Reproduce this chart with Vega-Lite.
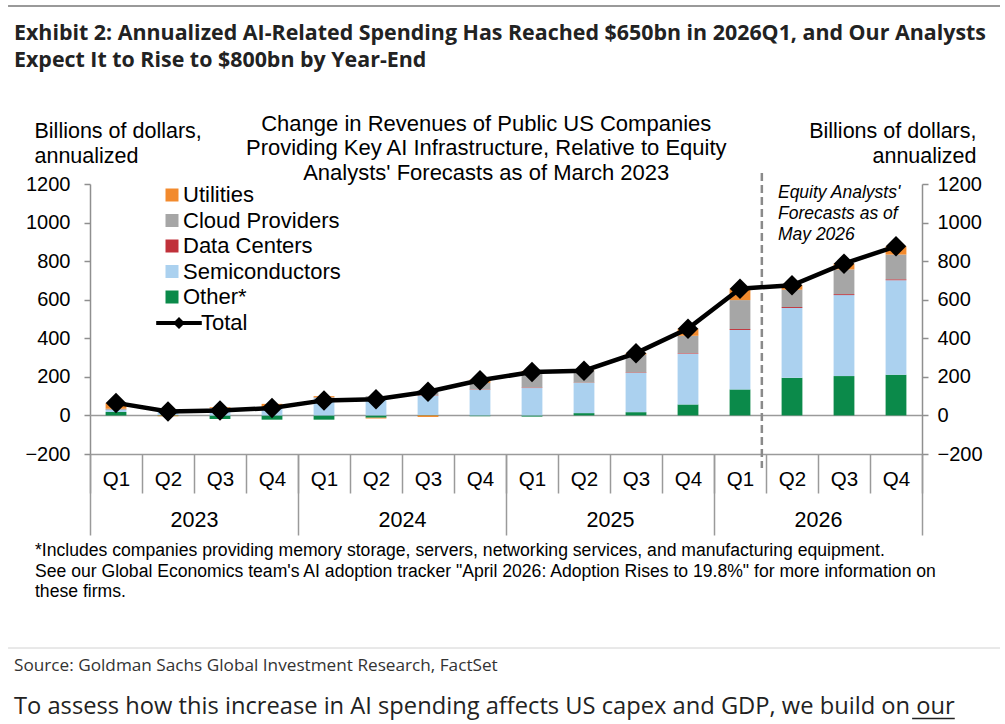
{
  "$schema": "https://vega.github.io/schema/vega-lite/v6.json",
  "width": 832,
  "height": 270,
  "autosize": {"type": "none"},
  "padding": {"left": 90, "top": 184, "right": 83, "bottom": 270},
  "background": "white",
  "config": {"view": {"stroke": null}},
  "datasets": {
    "sectors": [
      {"quarter": "2023 Q1", "sector": "Other*", "value": 18},
      {"quarter": "2023 Q1", "sector": "Semiconductors", "value": 10},
      {"quarter": "2023 Q1", "sector": "Data Centers", "value": 1},
      {"quarter": "2023 Q1", "sector": "Cloud Providers", "value": 6},
      {"quarter": "2023 Q1", "sector": "Utilities", "value": 30},
      {"quarter": "2023 Q2", "sector": "Other*", "value": 2},
      {"quarter": "2023 Q2", "sector": "Semiconductors", "value": 20},
      {"quarter": "2023 Q2", "sector": "Data Centers", "value": 0},
      {"quarter": "2023 Q2", "sector": "Cloud Providers", "value": 2},
      {"quarter": "2023 Q2", "sector": "Utilities", "value": -4},
      {"quarter": "2023 Q3", "sector": "Other*", "value": -18},
      {"quarter": "2023 Q3", "sector": "Semiconductors", "value": 35},
      {"quarter": "2023 Q3", "sector": "Data Centers", "value": 1},
      {"quarter": "2023 Q3", "sector": "Cloud Providers", "value": 3},
      {"quarter": "2023 Q3", "sector": "Utilities", "value": 4},
      {"quarter": "2023 Q4", "sector": "Other*", "value": -22},
      {"quarter": "2023 Q4", "sector": "Semiconductors", "value": 38},
      {"quarter": "2023 Q4", "sector": "Data Centers", "value": 0},
      {"quarter": "2023 Q4", "sector": "Cloud Providers", "value": 5},
      {"quarter": "2023 Q4", "sector": "Utilities", "value": 17},
      {"quarter": "2024 Q1", "sector": "Other*", "value": -22},
      {"quarter": "2024 Q1", "sector": "Semiconductors", "value": 90},
      {"quarter": "2024 Q1", "sector": "Data Centers", "value": 1},
      {"quarter": "2024 Q1", "sector": "Cloud Providers", "value": 3},
      {"quarter": "2024 Q1", "sector": "Utilities", "value": 6},
      {"quarter": "2024 Q2", "sector": "Other*", "value": -12},
      {"quarter": "2024 Q2", "sector": "Semiconductors", "value": 80},
      {"quarter": "2024 Q2", "sector": "Data Centers", "value": 2},
      {"quarter": "2024 Q2", "sector": "Cloud Providers", "value": 18},
      {"quarter": "2024 Q2", "sector": "Utilities", "value": -4},
      {"quarter": "2024 Q3", "sector": "Other*", "value": 2},
      {"quarter": "2024 Q3", "sector": "Semiconductors", "value": 100},
      {"quarter": "2024 Q3", "sector": "Data Centers", "value": 2},
      {"quarter": "2024 Q3", "sector": "Cloud Providers", "value": 27},
      {"quarter": "2024 Q3", "sector": "Utilities", "value": -8},
      {"quarter": "2024 Q4", "sector": "Other*", "value": -4},
      {"quarter": "2024 Q4", "sector": "Semiconductors", "value": 133},
      {"quarter": "2024 Q4", "sector": "Data Centers", "value": 2},
      {"quarter": "2024 Q4", "sector": "Cloud Providers", "value": 34},
      {"quarter": "2024 Q4", "sector": "Utilities", "value": 17},
      {"quarter": "2025 Q1", "sector": "Other*", "value": -6},
      {"quarter": "2025 Q1", "sector": "Semiconductors", "value": 142},
      {"quarter": "2025 Q1", "sector": "Data Centers", "value": 3},
      {"quarter": "2025 Q1", "sector": "Cloud Providers", "value": 76},
      {"quarter": "2025 Q1", "sector": "Utilities", "value": 10},
      {"quarter": "2025 Q2", "sector": "Other*", "value": 12},
      {"quarter": "2025 Q2", "sector": "Semiconductors", "value": 156},
      {"quarter": "2025 Q2", "sector": "Data Centers", "value": 2},
      {"quarter": "2025 Q2", "sector": "Cloud Providers", "value": 60},
      {"quarter": "2025 Q2", "sector": "Utilities", "value": 2},
      {"quarter": "2025 Q3", "sector": "Other*", "value": 17},
      {"quarter": "2025 Q3", "sector": "Semiconductors", "value": 203},
      {"quarter": "2025 Q3", "sector": "Data Centers", "value": 3},
      {"quarter": "2025 Q3", "sector": "Cloud Providers", "value": 92},
      {"quarter": "2025 Q3", "sector": "Utilities", "value": 8},
      {"quarter": "2025 Q4", "sector": "Other*", "value": 57},
      {"quarter": "2025 Q4", "sector": "Semiconductors", "value": 263},
      {"quarter": "2025 Q4", "sector": "Data Centers", "value": 3},
      {"quarter": "2025 Q4", "sector": "Cloud Providers", "value": 90},
      {"quarter": "2025 Q4", "sector": "Utilities", "value": 37},
      {"quarter": "2026 Q1", "sector": "Other*", "value": 135},
      {"quarter": "2026 Q1", "sector": "Semiconductors", "value": 308},
      {"quarter": "2026 Q1", "sector": "Data Centers", "value": 5},
      {"quarter": "2026 Q1", "sector": "Cloud Providers", "value": 150},
      {"quarter": "2026 Q1", "sector": "Utilities", "value": 59},
      {"quarter": "2026 Q2", "sector": "Other*", "value": 195},
      {"quarter": "2026 Q2", "sector": "Semiconductors", "value": 362},
      {"quarter": "2026 Q2", "sector": "Data Centers", "value": 5},
      {"quarter": "2026 Q2", "sector": "Cloud Providers", "value": 90},
      {"quarter": "2026 Q2", "sector": "Utilities", "value": 23},
      {"quarter": "2026 Q3", "sector": "Other*", "value": 204},
      {"quarter": "2026 Q3", "sector": "Semiconductors", "value": 420},
      {"quarter": "2026 Q3", "sector": "Data Centers", "value": 5},
      {"quarter": "2026 Q3", "sector": "Cloud Providers", "value": 128},
      {"quarter": "2026 Q3", "sector": "Utilities", "value": 30},
      {"quarter": "2026 Q4", "sector": "Other*", "value": 211},
      {"quarter": "2026 Q4", "sector": "Semiconductors", "value": 490},
      {"quarter": "2026 Q4", "sector": "Data Centers", "value": 5},
      {"quarter": "2026 Q4", "sector": "Cloud Providers", "value": 128},
      {"quarter": "2026 Q4", "sector": "Utilities", "value": 43}
    ],
    "totals": [
      {"quarter": "2023 Q1", "total": 65},
      {"quarter": "2023 Q2", "total": 20},
      {"quarter": "2023 Q3", "total": 25},
      {"quarter": "2023 Q4", "total": 38},
      {"quarter": "2024 Q1", "total": 78},
      {"quarter": "2024 Q2", "total": 84},
      {"quarter": "2024 Q3", "total": 123},
      {"quarter": "2024 Q4", "total": 182},
      {"quarter": "2025 Q1", "total": 225},
      {"quarter": "2025 Q2", "total": 232},
      {"quarter": "2025 Q3", "total": 323},
      {"quarter": "2025 Q4", "total": 450},
      {"quarter": "2026 Q1", "total": 657},
      {"quarter": "2026 Q2", "total": 675},
      {"quarter": "2026 Q3", "total": 787},
      {"quarter": "2026 Q4", "total": 877}
    ]
  },
  "resolve": {"scale": {"x": "independent", "y": "independent", "color": "independent"}},
  "layer": [
    {
      "description": "zero baseline",
      "data": {"values": [{}]},
      "mark": {"type": "rule", "color": "#9a9a9a", "strokeWidth": 1.5},
      "encoding": {
        "y": {"datum": 0, "type": "quantitative", "scale": {"domain": [-200, 1200], "nice": false, "zero": false}, "axis": null}
      }
    },
    {
      "description": "stacked sector contributions, stacked in row order within each quarter",
      "data": {"name": "sectors"},
      "transform": [{"window": [{"op": "row_number", "as": "stack_rank"}], "groupby": ["quarter"]}],
      "mark": {"type": "bar"},
      "encoding": {
        "x": {"field": "quarter", "type": "nominal", "scale": {"paddingInner": 0.6, "paddingOuter": 0.3}, "axis": null},
        "y": {
          "field": "value", "type": "quantitative", "stack": "zero",
          "scale": {"domain": [-200, 1200], "nice": false, "zero": false},
          "axis": {
            "orient": "left", "values": [-200, 0, 200, 400, 600, 800, 1000, 1200], "format": "d",
            "grid": false, "domainColor": "#8f8f8f", "domainWidth": 1.5, "tickColor": "#8f8f8f", "tickWidth": 1.5, "tickSize": 6,
            "labelFont": "Liberation Sans", "labelFontSize": 20, "labelColor": "#000", "labelPadding": 14,
            "title": ["Billions of dollars,", "annualized"], "titleFont": "Liberation Sans", "titleFontSize": 21.5,
            "titleFontWeight": "normal", "titleColor": "#000", "titleAngle": 0, "titleAlign": "left",
            "titleBaseline": "alphabetic", "titleX": -56, "titleY": -47, "titleLineHeight": 25
          }
        },
        "order": {"field": "stack_rank", "type": "quantitative", "sort": "ascending"},
        "color": {
          "field": "sector", "type": "nominal",
          "scale": {
            "domain": ["Other*", "Semiconductors", "Data Centers", "Cloud Providers", "Utilities"],
            "range": ["#0b8a4a", "#abd1ef", "#c0313a", "#a6a6a6", "#f28a2d"]
          },
          "legend": {
            "orient": "none", "legendX": 71, "legendY": 0, "title": null, "padding": 0,
            "values": ["Utilities", "Cloud Providers", "Data Centers", "Semiconductors", "Other*"],
            "symbolType": "square", "symbolSize": 169, "symbolStrokeWidth": 0,
            "labelFont": "Liberation Sans", "labelFontSize": 22, "labelColor": "#000", "labelOffset": 0, "rowPadding": 3.5
          }
        }
      }
    },
    {
      "description": "forecast divider, also carries the quarter separators",
      "data": {"values": [{}]},
      "mark": {"type": "rule", "color": "#8a8a8a", "strokeWidth": 2.5, "strokeDash": [8, 4]},
      "encoding": {
        "x": {
          "datum": 12.92, "type": "quantitative", "scale": {"domain": [0, 16], "nice": false, "zero": false},
          "axis": {
            "orient": "bottom", "values": [0, 1, 2, 3, 4, 5, 6, 7, 8, 9, 10, 11, 12, 13, 14, 15, 16],
            "labels": false, "ticks": true, "tickSize": 39, "tickColor": "#9a9a9a", "tickWidth": 1.5,
            "domain": true, "domainColor": "#9a9a9a", "domainWidth": 1.5, "grid": false, "title": null
          }
        },
        "y": {"datum": 1257, "type": "quantitative", "scale": {"domain": [-200, 1200], "nice": false, "zero": false}, "axis": null},
        "y2": {"datum": -273}
      }
    },
    {
      "description": "total line with diamonds",
      "data": {"name": "totals"},
      "mark": {"type": "line", "strokeWidth": 4.5, "point": {"shape": "diamond", "size": 420, "filled": true, "color": "#000"}},
      "encoding": {
        "x": {"field": "quarter", "type": "nominal", "axis": null},
        "y": {
          "field": "total", "type": "quantitative",
          "scale": {"domain": [-200, 1200], "nice": false, "zero": false},
          "axis": {
            "orient": "right", "values": [-200, 0, 200, 400, 600, 800, 1000, 1200], "format": "d",
            "grid": false, "domainColor": "#8f8f8f", "domainWidth": 1.5, "tickColor": "#8f8f8f", "tickWidth": 1.5, "tickSize": 6,
            "labelFont": "Liberation Sans", "labelFontSize": 20, "labelColor": "#000", "labelPadding": 9,
            "title": ["Billions of dollars,", "annualized"], "titleFont": "Liberation Sans", "titleFontSize": 21.5,
            "titleFontWeight": "normal", "titleColor": "#000", "titleAngle": 0, "titleAlign": "right",
            "titleBaseline": "alphabetic", "titleX": 54, "titleY": -47, "titleLineHeight": 25
          }
        },
        "color": {
          "datum": "Total", "type": "nominal",
          "scale": {"domain": ["Total"], "range": ["#000"]},
          "legend": {
            "orient": "none", "legendX": 78, "legendY": 128, "title": null, "padding": 0,
            "symbolType": "M-3.8,-0.32H3.8V0.32H-3.8Z M0,-1L1,0L0,1L-1,0Z", "symbolSize": 144,
            "symbolFillColor": "#000", "symbolStrokeColor": "#000", "symbolStrokeWidth": 0,
            "labelFont": "Liberation Sans", "labelFontSize": 22, "labelColor": "#000", "labelOffset": 11
          }
        }
      }
    },
    {
      "description": "forecast annotation, also carries the quarter labels",
      "data": {"values": [{}]},
      "mark": {"type": "text", "align": "left", "baseline": "alphabetic", "font": "Liberation Sans", "fontSize": 17.5, "fontStyle": "italic", "color": "#000", "lineHeight": 21},
      "encoding": {
        "x": {
          "datum": 13.23, "type": "quantitative", "scale": {"domain": [0, 16], "nice": false, "zero": false},
          "axis": {
            "orient": "bottom", "values": [0.5, 1.5, 2.5, 3.5, 4.5, 5.5, 6.5, 7.5, 8.5, 9.5, 10.5, 11.5, 12.5, 13.5, 14.5, 15.5],
            "labelExpr": "'Q' + (floor(datum.value) % 4 + 1)", "ticks": false, "domain": false, "grid": false,
            "labelFont": "Liberation Sans", "labelFontSize": 20.5, "labelColor": "#000", "labelPadding": 15,
            "labelFlush": false, "labelOverlap": false, "title": null
          }
        },
        "y": {"datum": 1127, "type": "quantitative", "scale": {"domain": [-200, 1200], "nice": false, "zero": false}, "axis": null},
        "text": {"value": ["Equity Analysts'", "Forecasts as of", "May 2026"]}
      }
    },
    {
      "description": "page rule above the heading, also carries the year separators",
      "data": {"values": [{}]},
      "mark": {"type": "rule", "color": "#999", "strokeWidth": 2},
      "encoding": {
        "x": {
          "datum": -0.394, "type": "quantitative", "scale": {"domain": [0, 4], "nice": false, "zero": false},
          "axis": {
            "orient": "bottom", "values": [0, 1, 2, 3, 4], "labels": false, "ticks": true, "tickSize": 81,
            "tickColor": "#9a9a9a", "tickWidth": 1.5, "domain": false, "grid": false, "title": null
          }
        },
        "x2": {"datum": 4.375},
        "y": {"datum": 2123, "type": "quantitative", "scale": {"domain": [-200, 1200], "nice": false, "zero": false}, "axis": null}
      }
    },
    {
      "description": "page rule above the source line, also carries the year labels",
      "data": {"values": [{}]},
      "mark": {"type": "rule", "color": "#d2d2d2", "strokeWidth": 1},
      "encoding": {
        "x": {
          "datum": -0.394, "type": "quantitative", "scale": {"domain": [0, 4], "nice": false, "zero": false},
          "axis": {
            "orient": "bottom", "values": [0.5, 1.5, 2.5, 3.5], "labelExpr": "'' + (2023 + floor(datum.value))",
            "ticks": false, "domain": false, "grid": false,
            "labelFont": "Liberation Sans", "labelFontSize": 21.5, "labelColor": "#000", "labelPadding": 55,
            "labelFlush": false, "labelOverlap": false, "title": null
          }
        },
        "x2": {"datum": 4.375},
        "y": {"datum": -1206, "type": "quantitative", "scale": {"domain": [-200, 1200], "nice": false, "zero": false}, "axis": null}
      }
    },
    {
      "description": "exhibit heading",
      "data": {"values": [{}]},
      "mark": {"type": "text", "align": "left", "baseline": "alphabetic", "font": "Open Sans", "fontSize": 21.4, "fontWeight": "bold", "color": "#222", "lineHeight": 27},
      "encoding": {
        "x": {"datum": -1.4615, "type": "quantitative", "scale": {"domain": [0, 16], "nice": false, "zero": false}, "axis": null},
        "y": {"datum": 1947, "type": "quantitative", "scale": {"domain": [-200, 1200], "nice": false, "zero": false}, "axis": null},
        "text": {"value": ["Exhibit 2: Annualized AI-Related Spending Has Reached $650bn in 2026Q1, and Our Analysts", "Expect It to Rise to $800bn by Year-End"]}
      }
    },
    {
      "description": "chart subtitle",
      "data": {"values": [{}]},
      "mark": {"type": "text", "align": "center", "baseline": "alphabetic", "font": "Liberation Sans", "fontSize": 22, "color": "#000", "lineHeight": 24.5},
      "encoding": {
        "x": {"datum": 7.62, "type": "quantitative", "scale": {"domain": [0, 16], "nice": false, "zero": false}, "axis": null},
        "y": {"datum": 1475, "type": "quantitative", "scale": {"domain": [-200, 1200], "nice": false, "zero": false}, "axis": null},
        "text": {"value": ["Change in Revenues of Public US Companies", "Providing Key AI Infrastructure, Relative to Equity", "Analysts' Forecasts as of March 2023"]}
      }
    },
    {
      "description": "footnote",
      "data": {"values": [{}]},
      "mark": {"type": "text", "align": "left", "baseline": "alphabetic", "font": "Liberation Sans", "fontSize": 17.6, "color": "#000", "lineHeight": 20.5},
      "encoding": {
        "x": {"datum": -1.058, "type": "quantitative", "scale": {"domain": [0, 16], "nice": false, "zero": false}, "axis": null},
        "y": {"datum": -729, "type": "quantitative", "scale": {"domain": [-200, 1200], "nice": false, "zero": false}, "axis": null},
        "text": {"value": ["*Includes companies providing memory storage, servers, networking services, and manufacturing equipment.", "See our Global Economics team's AI adoption tracker \"April 2026: Adoption Rises to 19.8%\" for more information on", "these firms."]}
      }
    },
    {
      "description": "source line",
      "data": {"values": [{}]},
      "mark": {"type": "text", "align": "left", "baseline": "alphabetic", "font": "Open Sans", "fontSize": 17.2, "color": "#333"},
      "encoding": {
        "x": {"datum": -1.4615, "type": "quantitative", "scale": {"domain": [0, 16], "nice": false, "zero": false}, "axis": null},
        "y": {"datum": -1325, "type": "quantitative", "scale": {"domain": [-200, 1200], "nice": false, "zero": false}, "axis": null},
        "text": {"value": "Source: Goldman Sachs Global Investment Research, FactSet"}
      }
    },
    {
      "description": "body text",
      "data": {"values": [{}]},
      "mark": {"type": "text", "align": "left", "baseline": "alphabetic", "font": "Open Sans", "fontSize": 23.7, "color": "#222"},
      "encoding": {
        "x": {"datum": -1.4615, "type": "quantitative", "scale": {"domain": [0, 16], "nice": false, "zero": false}, "axis": null},
        "y": {"datum": -1548, "type": "quantitative", "scale": {"domain": [-200, 1200], "nice": false, "zero": false}, "axis": null},
        "text": {"value": "To assess how this increase in AI spending affects US capex and GDP, we build on our"}
      }
    },
    {
      "description": "link underline under the last word of the body text",
      "data": {"values": [{}]},
      "mark": {"type": "rule", "color": "#222", "strokeWidth": 1.5},
      "encoding": {
        "x": {"datum": 15.81, "type": "quantitative", "scale": {"domain": [0, 16], "nice": false, "zero": false}, "axis": null},
        "x2": {"datum": 16.63},
        "y": {"datum": -1572, "type": "quantitative", "scale": {"domain": [-200, 1200], "nice": false, "zero": false}, "axis": null}
      }
    }
  ]
}
